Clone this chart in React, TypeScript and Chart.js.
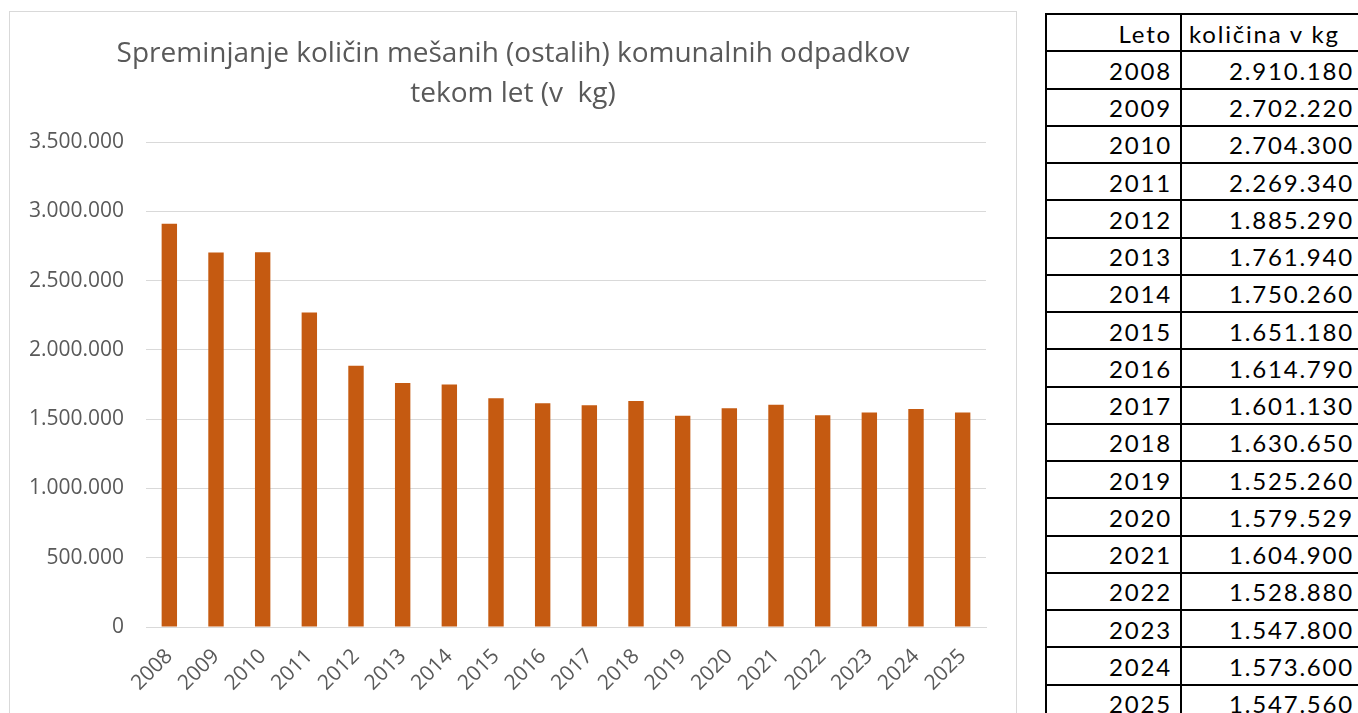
import React, { useEffect, useRef } from "react";
import { Chart, registerables } from "chart.js";

Chart.register(...registerables);

const years = ["2008","2009","2010","2011","2012","2013","2014","2015","2016","2017","2018","2019","2020","2021","2022","2023","2024","2025"];
const amounts = [2910180,2702220,2704300,2269340,1885290,1761940,1750260,1651180,1614790,1601130,1630650,1525260,1579529,1604900,1528880,1547800,1573600,1547560];
const amountLabels = ["2.910.180","2.702.220","2.704.300","2.269.340","1.885.290","1.761.940","1.750.260","1.651.180","1.614.790","1.601.130","1.630.650","1.525.260","1.579.529","1.604.900","1.528.880","1.547.800","1.573.600","1.547.560"];
const titleLines = ["Spreminjanje količin mešanih (ostalih) komunalnih odpadkov", "tekom let (v  kg)"];

const fmt = (v: number) => v.toLocaleString("de-DE");

export default function App() {
  const ref = useRef<HTMLCanvasElement | null>(null);
  useEffect(() => {
    if (!ref.current) return;
    const chart = new Chart(ref.current, {
      type: "bar",
      data: {
        labels: years,
        datasets: [{ data: amounts, backgroundColor: "#C55A11", barPercentage: 0.33, categoryPercentage: 1 }],
      },
      options: {
        animation: false,
        responsive: false,
        layout: { padding: 0 },
        plugins: {
          legend: { display: false },
          tooltip: { enabled: false },
          title: {
            display: true,
            text: titleLines,
            color: "#595959",
            font: { family: "Open Sans", size: 28, weight: "normal", lineHeight: 1.43 },
            padding: { top: 22, bottom: 28 },
          },
        },
        scales: {
          x: {
            grid: { display: false, drawTicks: false },
            border: { color: "#d9d9d9" },
            ticks: { color: "#595959", font: { family: "Open Sans", size: 21 }, minRotation: 45, maxRotation: 45, padding: 17 },
            afterFit: (s: any) => { s.height = 105; },
          },
          y: {
            min: 0,
            max: 3500000,
            grid: { color: "#d9d9d9", drawTicks: false },
            border: { display: false },
            ticks: { stepSize: 500000, color: "#595959", font: { family: "Open Sans", size: 21 }, padding: 22, callback: (v: any) => fmt(Number(v)) },
            afterFit: (s: any) => { s.width = 136; },
          },
          yRight: {
            position: "right",
            display: true,
            grid: { display: false, drawTicks: false },
            border: { display: false },
            ticks: { display: false },
            afterFit: (s: any) => { s.width = 30; },
          },
        },
      },
    });
    return () => chart.destroy();
  }, []);

  const rowH = 37.25;
  const cell: React.CSSProperties = {
    border: "2px solid #000",
    textAlign: "right",
    padding: "2px 8px 0 0",
    height: rowH,
    boxSizing: "border-box",
    fontFamily: "Lato, 'Noto Sans', sans-serif",
    fontSize: 24,
    letterSpacing: 1.8,
    color: "#000",
    lineHeight: "1",
    whiteSpace: "nowrap",
    overflow: "hidden",
  };

  return (
    <div style={{ position: "fixed", left: 0, top: 0, width: 1358, height: 713, overflow: "hidden", background: "#fff" }}>
      <div style={{ position: "absolute", left: 9, top: 11, width: 1006, height: 740, border: "1px solid #d9d9d9" }}>
        <canvas ref={ref} width={1006} height={720} style={{ position: "absolute", left: 0, top: 0 }} />
      </div>
      <div style={{ position: "absolute", left: 1045, top: 13, width: 400 }}>
        <table style={{ width: 345, borderCollapse: "collapse", tableLayout: "fixed" }}>
          <colgroup>
            <col style={{ width: 135 }} />
            <col style={{ width: 210 }} />
          </colgroup>
          <tbody>
            <tr style={{ height: rowH }}>
              <td style={cell}>Leto</td>
              <td style={{ ...cell, textAlign: "left", paddingLeft: 7 }}>količina v kg</td>
            </tr>
            {years.map((y, i) => (
              <tr key={y} style={{ height: rowH }}>
                <td style={cell}>{y}</td>
                <td style={{ ...cell, paddingRight: 36 }}>{amountLabels[i]}</td>
              </tr>
            ))}
          </tbody>
        </table>
      </div>
    </div>
  );
}
